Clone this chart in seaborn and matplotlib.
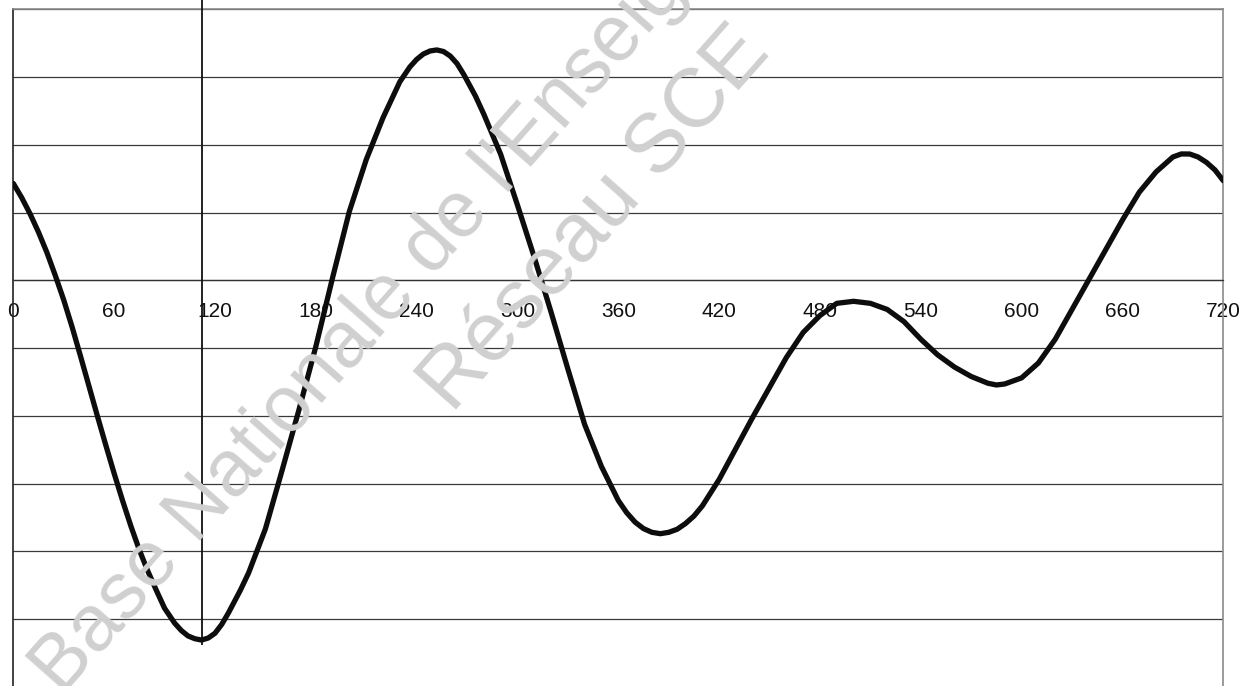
import matplotlib
matplotlib.use("Agg")
import matplotlib.pyplot as plt
import seaborn as sns

# ---- data ----
x_vals = [0, 5, 10, 15, 20, 25, 30, 35, 40, 45, 50, 55, 60, 65, 70, 75, 80, 85,
          90, 96, 100, 104, 108, 112, 116, 120, 124, 128, 135, 140, 150, 160,
          170, 180, 190, 200, 210, 220, 230, 236, 240, 244, 248, 252, 256, 260,
          264, 268, 275, 280, 290, 300, 310, 320, 330, 340, 350, 360, 365, 370,
          375, 380, 385, 390, 395, 400, 405, 410, 420, 430, 440, 450, 460, 470,
          480, 490, 500, 510, 520, 530, 540, 550, 560, 570, 580, 585, 590, 600,
          610, 620, 630, 640, 650, 660, 670, 680, 690, 695, 700, 705, 710, 715,
          720]
y_vals = [1.43, 1.22, 0.98, 0.71, 0.41, 0.07, -0.29, -0.69, -1.12, -1.56,
          -2.00, -2.43, -2.85, -3.25, -3.63, -3.98, -4.29, -4.57, -4.84, -5.06,
          -5.17, -5.25, -5.29, -5.31, -5.28, -5.21, -5.08, -4.91, -4.58, -4.32,
          -3.67, -2.80, -1.91, -0.98, 0.04, 1.02, 1.78, 2.40, 2.93, 3.15, 3.26,
          3.34, 3.385, 3.40, 3.377, 3.31, 3.20, 3.04, 2.72, 2.45, 1.86, 1.11,
          0.34, -0.47, -1.31, -2.13, -2.75, -3.25, -3.43, -3.57, -3.665, -3.72,
          -3.74, -3.72, -3.675, -3.59, -3.48, -3.33, -2.94, -2.48, -2.02, -1.58,
          -1.14, -0.77, -0.52, -0.34, -0.31, -0.34, -0.43, -0.61, -0.87, -1.10,
          -1.28, -1.42, -1.52, -1.545, -1.53, -1.44, -1.22, -0.87, -0.43, 0.01,
          0.45, 0.89, 1.30, 1.60, 1.82, 1.865, 1.864, 1.82, 1.74, 1.63, 1.47]
x_major = list(range(0, 721, 60))
x_minor = list(range(0, 721, 20))
x_labels = [str(v) for v in x_major]
y_grid = list(range(-6, 5))
marker_x = 112
marker_span = (-5.38, 4.13)
watermark_1 = "Base Nationale de l'Enseig"
watermark_2 = "Réseau SCE"

sns.set_style("white")
plt.rcParams['font.family'] = ['Liberation Sans', 'DejaVu Sans']

W, H = 1258, 686
fig = plt.figure(figsize=(W / 100, H / 100), dpi=100)
left_px, right_px, top_px, bot_px = 13.3, 1223.3, 9.3, 686.8
ax = fig.add_axes([left_px / W, 1 - bot_px / H, (right_px - left_px) / W,
                   (bot_px - top_px) / H])
ax.set_xlim(0, 720)
ax.set_ylim(-6, 4)

# watermark
fig.text(62 / W, 1 - 697 / H, watermark_1, rotation=48.5, rotation_mode='anchor',
         ha='left', va='baseline', fontsize=57, color='#d0d0d0', zorder=0)
fig.text(452 / W, 1 - 414 / H, watermark_2, rotation=48.5, rotation_mode='anchor',
         ha='left', va='baseline', fontsize=60, color='#d0d0d0', zorder=0)
ax.patch.set_alpha(0)

# horizontal grid
for yv in y_grid:
    ax.axhline(yv, color='#3a3a3a', lw=0.9, zorder=1)

# spines
ax.spines['bottom'].set_position(('data', 0))
ax.spines['bottom'].set_color('#333333')
ax.spines['bottom'].set_linewidth(0.9)
ax.spines['left'].set_color('#222222')
ax.spines['left'].set_linewidth(1.2)
for s in ('top', 'right'):
    ax.spines[s].set_color('#8a8a8a')
    ax.spines[s].set_linewidth(1.2)

ax.set_xticks(x_major)
ax.set_xticklabels(x_labels)
ax.set_xticks(x_minor, minor=True)
ax.tick_params(axis='x', which='both', direction='inout', length=9,
               width=0.9, color='#222222', pad=11, labelsize=15,
               labelcolor='#111111')
ax.set_yticks(y_grid)
ax.set_yticklabels([])
ax.tick_params(axis='y', which='major', direction='out', length=4.5,
               width=0.8, color='#333333')

# vertical marker line
ax.vlines(marker_x, marker_span[0], marker_span[1], color='#111111', lw=1.3,
          clip_on=False, zorder=3)

sns.lineplot(x=x_vals, y=y_vals, ax=ax, color='#0d0d0d', linewidth=3.8,
             sort=False, zorder=4)
ax.lines[-1].set_solid_joinstyle('round')
ax.lines[-1].set_solid_capstyle('round')

fig.savefig("out.png", dpi=100)
